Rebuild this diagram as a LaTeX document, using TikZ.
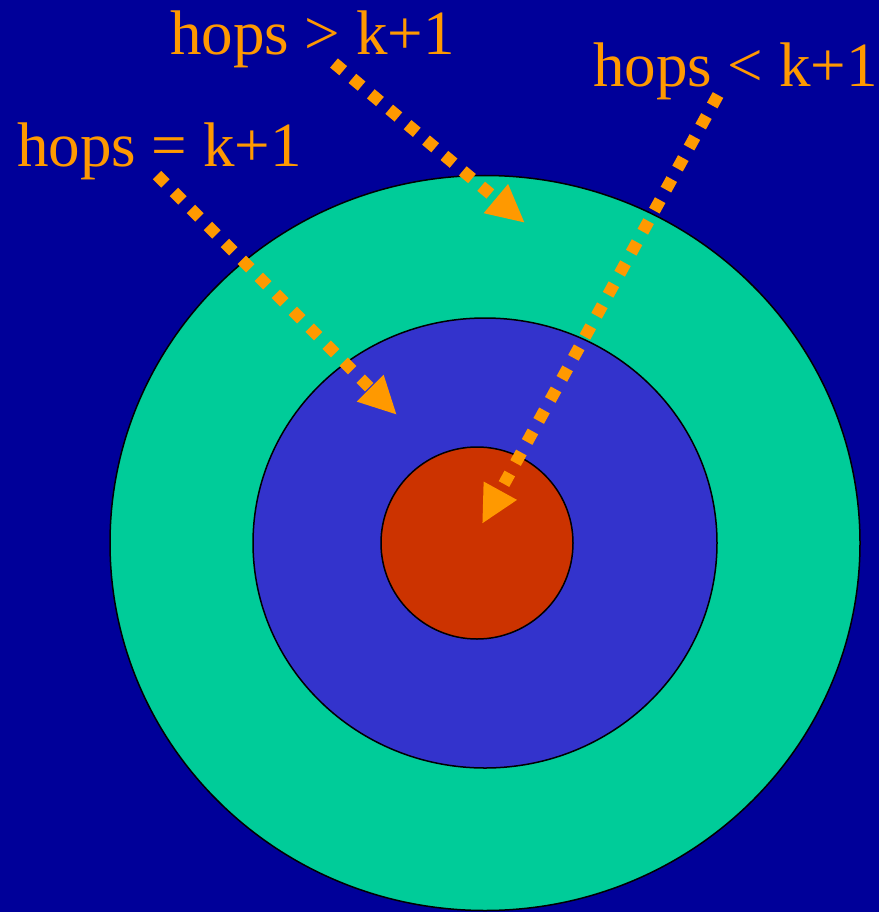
\documentclass[tikz,border=0pt]{standalone}
\usepackage{fontspec}
\setmainfont{Liberation Serif}
\usetikzlibrary{arrows.meta,shapes.geometric}
\definecolor{bgblue}{HTML}{000099}
\definecolor{ringgreen}{HTML}{00CC99}
\definecolor{ringblue}{HTML}{3333CC}
\definecolor{corered}{HTML}{CC3300}
\definecolor{hoporange}{HTML}{FF9900}

\begin{document}
\begin{tikzpicture}[
  x=1pt, y=-1pt,
  ring/.style={draw, ellipse, line width=1.5pt, inner sep=0pt},
  hop/.style={font=\fontsize{63}{63}\selectfont, text=hoporange, anchor=base west, inner sep=0pt},
  arrow/.style={-{Triangle[length=38pt,width=35pt]}, hoporange, line width=12pt, dash pattern=on 12pt off 12pt}
]
  \useasboundingbox (0,0) rectangle (879,912);
  \fill[bgblue] (0,0) rectangle (879,912);

  % rings
  \node[ring,fill=ringgreen,minimum width=750pt,minimum height=735pt] (outer) at (485,543) {};
  \node[ring,fill=ringblue,minimum width=464pt,minimum height=450pt] (middle) at (485,543) {};
  \node[ring,fill=corered,minimum width=192pt,minimum height=192pt] (core) at (477,543) {};

  % labels
  \node[hop] (eq) at (17,167) {hops = k+1};
  \node[hop] (gt) at (170,55) {hops > k+1};
  \node[hop] (lt) at (593,87) {hops < k+1};

  \coordinate (eqstart) at (157,175);
  \coordinate (eqtip) at (397,415);
  \coordinate (gtstart) at (334,63);
  \coordinate (gttip) at (525,223);
  \coordinate (ltstart) at (718,95);
  \coordinate (lttip) at (482,524);

  \draw[arrow] (eqstart) -- (eqtip);
  \draw[arrow] (gtstart) -- (gttip);
  \draw[arrow] (ltstart) -- (lttip);
\end{tikzpicture}
\end{document}
